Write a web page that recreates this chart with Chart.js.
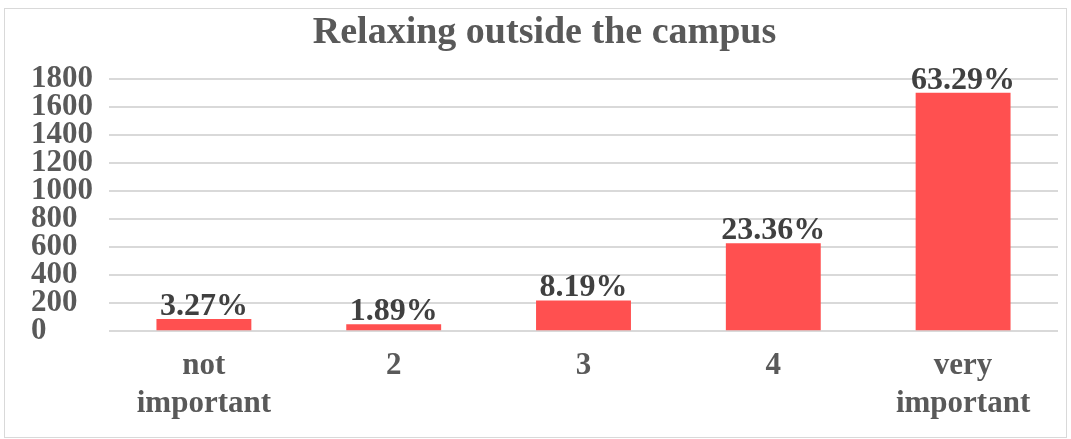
<!DOCTYPE html>
<html>
<head>
<meta charset="utf-8">
<script src="https://cdn.jsdelivr.net/npm/chart.js@4/dist/chart.umd.min.js"></script>
<style>
  html, body { margin: 0; padding: 0; background: #fff; }
  #wrap { width: 1071px; height: 439px; }
</style>
</head>
<body>
<div id="wrap"><canvas id="chart"></canvas></div>
<script>
// data
const categories = [["not", "important"], "2", "3", "4", ["very", "important"]];
const counts = [88, 51, 220, 627, 1700];
const percentLabels = ["3.27%", "1.89%", "8.19%", "23.36%", "63.29%"];
const yTicks = [0, 200, 400, 600, 800, 1000, 1200, 1400, 1600, 1800];

const serif = "'Liberation Serif', 'Times New Roman', serif";

// draws the percentage above each bar
const barLabels = {
  id: 'barLabels',
  afterDatasetsDraw(chart) {
    const ctx = chart.ctx;
    const meta = chart.getDatasetMeta(0);
    ctx.save();
    ctx.font = "bold 32px " + serif;
    ctx.fillStyle = '#404040';
    ctx.textAlign = 'center';
    ctx.textBaseline = 'alphabetic';
    meta.data.forEach((bar, i) => {
      ctx.fillText(percentLabels[i], bar.x, bar.y - 4);
    });
    ctx.restore();
  }
};

// light frame around the whole chart
const frame = {
  id: 'frame',
  beforeDraw(chart) {
    const ctx = chart.ctx;
    ctx.save();
    ctx.fillStyle = '#fff';
    ctx.fillRect(0, 0, chart.width, chart.height);
    ctx.strokeStyle = '#d9d9d9';
    ctx.lineWidth = 1;
    ctx.strokeRect(4.5, 8.5, chart.width - 9, chart.height - 10);
    ctx.restore();
  }
};

const ctx = document.getElementById('chart').getContext('2d');
new Chart(ctx, {
  type: 'bar',
  data: {
    labels: categories,
    datasets: [{
      data: counts,
      backgroundColor: '#ff5050',
      barPercentage: 0.5,
      categoryPercentage: 1.0
    }]
  },
  options: {
    responsive: true,
    maintainAspectRatio: false,
    animation: false,
    layout: { padding: { left: 31, right: 13, top: 8, bottom: 0 } },
    plugins: {
      legend: { display: false },
      tooltip: { enabled: false },
      title: {
        display: true,
        text: 'Relaxing outside the campus',
        color: '#595959',
        font: { family: serif, size: 38, weight: 'bold' },
        padding: { top: 2, bottom: 23 }
      }
    },
    scales: {
      x: {
        grid: { display: false, drawTicks: false },
        border: { display: false },
        ticks: {
          color: '#595959',
          font: { family: serif, size: 31, weight: 'bold', lineHeight: 1.22 },
          padding: 16,
          maxRotation: 0,
          autoSkip: false
        }
      },
      y: {
        min: 0,
        max: 1800,
        afterBuildTicks(axis) {
          axis.ticks = yTicks.map(v => ({ value: v }));
        },
        grid: { color: '#d9d9d9', lineWidth: 2, drawTicks: false },
        border: { display: false },
        ticks: {
          color: '#595959',
          font: { family: serif, size: 31, weight: 'bold', lineHeight: 0.9 },
          padding: 8,
          crossAlign: 'far',
          autoSkip: false,
          callback: v => String(v)
        }
      }
    }
  },
  plugins: [frame, barLabels]
});
</script>
</body>
</html>
